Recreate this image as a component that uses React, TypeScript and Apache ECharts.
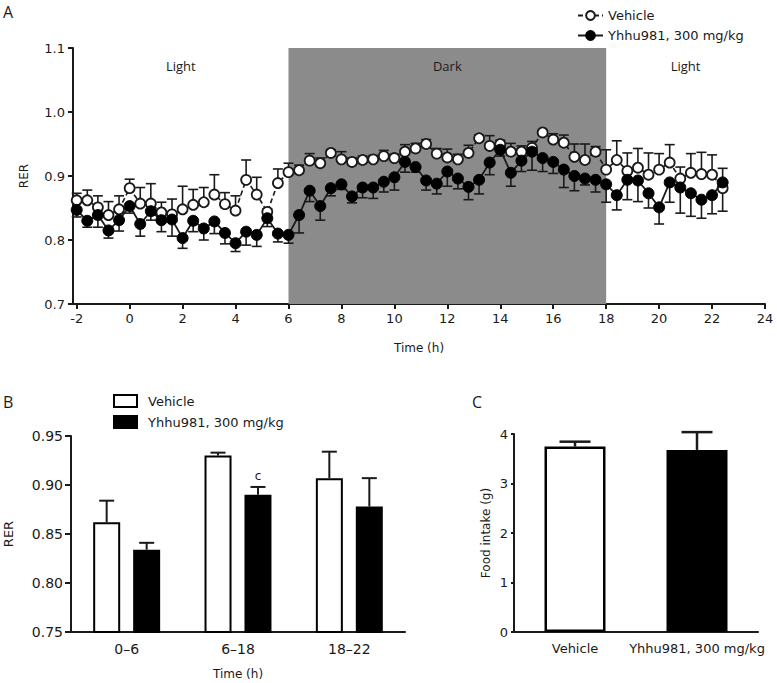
import React, { useEffect, useRef } from "react";
import * as echarts from "echarts";

// ---------- Panel A data ----------
const timeH = [
  -2, -1.6, -1.2, -0.8, -0.4, 0, 0.4, 0.8, 1.2, 1.6,
  2, 2.4, 2.8, 3.2, 3.6, 4, 4.4, 4.8, 5.2, 5.6,
  6, 6.4, 6.8, 7.2, 7.6, 8, 8.4, 8.8, 9.2, 9.6,
  10, 10.4, 10.8, 11.2, 11.6, 12, 12.4, 12.8, 13.2, 13.6,
  14, 14.4, 14.8, 15.2, 15.6, 16, 16.4, 16.8, 17.2, 17.6,
  18, 18.4, 18.8, 19.2, 19.6, 20, 20.4, 20.8, 21.2, 21.6,
  22, 22.4,
];
const vehicleRER = [
  0.862, 0.862, 0.851, 0.839, 0.848, 0.881, 0.857, 0.857, 0.843, 0.840,
  0.848, 0.855, 0.859, 0.871, 0.856, 0.846, 0.894, 0.871, 0.844, 0.889,
  0.906, 0.909, 0.924, 0.920, 0.936, 0.926, 0.922, 0.925, 0.926, 0.931,
  0.928, 0.938, 0.943, 0.950, 0.935, 0.929, 0.926, 0.936, 0.959, 0.947,
  0.950, 0.938, 0.938, 0.944, 0.968, 0.957, 0.952, 0.930, 0.925, 0.938,
  0.910, 0.925, 0.908, 0.913, 0.902, 0.910, 0.921, 0.896, 0.905, 0.903,
  0.902, 0.881,
];
const vehicleErr = [
  0.011, 0.016, 0.018, 0.021, 0.021, 0.014, 0.025, 0.031, 0.016, 0.024,
  0.036, 0.024, 0.023, 0.031, 0.018, 0.023, 0.031, 0.027, 0.005, 0.022,
  0.014, 0.008, 0.011, 0.008, 0.005, 0.012, 0.006, 0.006, 0.006, 0.009,
  0.006, 0.011, 0.008, 0.007, 0.008, 0.013, 0.008, 0.012, 0.005, 0.016,
  0.006, 0.013, 0.009, 0.010, 0.003, 0.009, 0.012, 0.020, 0.025, 0.008,
  0.031, 0.030, 0.028, 0.030, 0.034, 0.025, 0.028, 0.018, 0.030, 0.034,
  0.031, 0.031,
];
const yhhuRER = [
  0.847, 0.830, 0.839, 0.815, 0.831, 0.853, 0.825, 0.845, 0.831, 0.832,
  0.803, 0.830, 0.818, 0.829, 0.811, 0.795, 0.813, 0.808, 0.834, 0.810,
  0.808, 0.839, 0.877, 0.853, 0.881, 0.887, 0.868, 0.882, 0.882, 0.891,
  0.898, 0.922, 0.914, 0.893, 0.888, 0.907, 0.896, 0.883, 0.894, 0.921,
  0.941, 0.905, 0.924, 0.938, 0.928, 0.922, 0.910, 0.900, 0.896, 0.894,
  0.887, 0.870, 0.894, 0.893, 0.873, 0.851, 0.890, 0.882, 0.873, 0.863,
  0.870, 0.890,
];
const yhhuErr = [
  0.011, 0.010, 0.019, 0.012, 0.017, 0.011, 0.019, 0.014, 0.018, 0.026,
  0.016, 0.017, 0.018, 0.019, 0.017, 0.013, 0.021, 0.018, 0.013, 0.013,
  0.013, 0.028, 0.017, 0.022, 0.012, 0.008, 0.010, 0.016, 0.017, 0.016,
  0.020, 0.016, 0.008, 0.015, 0.016, 0.023, 0.016, 0.020, 0.022, 0.019,
  0.010, 0.021, 0.017, 0.029, 0.021, 0.018, 0.028, 0.023, 0.010, 0.019,
  0.028, 0.023, 0.031, 0.033, 0.023, 0.026, 0.031, 0.040, 0.036, 0.029,
  0.029, 0.045,
];
const xTicksA = [-2, 0, 2, 4, 6, 8, 10, 12, 14, 16, 18, 20, 22, 24];

// ---------- Panel B data ----------
const periodCats = ["0–6", "6–18", "18–22"];
const vehicleMeanB = [0.862, 0.930, 0.907];
const vehicleErrB = [0.022, 0.003, 0.027];
const yhhuMeanB = [0.834, 0.890, 0.878];
const yhhuErrB = [0.007, 0.008, 0.029];
const yhhuSigB = ["", "c", ""];

// ---------- Panel C data ----------
const groupCats = ["Vehicle", "Yhhu981, 300 mg/kg"];
const foodMean = [3.745, 3.678];
const foodErr = [0.10, 0.36];

const INK = "#1a1a1a";
const FONT = "DejaVu Sans";

const legendNames: Record<string, string> = {
  "B-Vehicle": "Vehicle",
  "B-Yhhu": "Yhhu981, 300 mg/kg",
};

function lineErr(dir: number) {
  return (params: any, api: any) => {
    const x = api.value(0);
    const y = api.value(1);
    const e = api.value(2);
    const p0 = api.coord([x, y]);
    const p1 = api.coord([x, y + dir * e]);
    const hw = 5;
    const st = { stroke: INK, lineWidth: 1.6 };
    return {
      type: "group",
      children: [
        { type: "line", shape: { x1: p0[0], y1: p0[1], x2: p1[0], y2: p1[1] }, style: st },
        { type: "line", shape: { x1: p1[0] - hw, y1: p1[1], x2: p1[0] + hw, y2: p1[1] }, style: st },
      ],
    };
  };
}

function barErr(offset: number, hw: number, lw: number, labels?: string[]) {
  return (params: any, api: any) => {
    const c = api.value(0);
    const v = api.value(1);
    const e = api.value(2);
    const p0 = api.coord([c, v]);
    const p1 = api.coord([c, v + e]);
    const x = p0[0] + offset;
    const st = { stroke: INK, lineWidth: lw };
    const children: any[] = [
      { type: "line", shape: { x1: x, y1: p0[1], x2: x, y2: p1[1] }, style: st },
      { type: "line", shape: { x1: x - hw, y1: p1[1], x2: x + hw, y2: p1[1] }, style: st },
    ];
    const lab = labels ? labels[params.dataIndex] : "";
    if (lab) {
      children.push({
        type: "text",
        x: x,
        y: p1[1] - 5,
        style: { text: lab, fill: INK, font: `12px ${FONT}`, textAlign: "center", textVerticalAlign: "bottom" },
      });
    }
    return { type: "group", children };
  };
}

export default function App() {
  const ref = useRef<HTMLDivElement>(null);

  useEffect(() => {
    document.body.style.margin = "0";
    if (!ref.current) return;
    const chart = echarts.init(ref.current, undefined, { renderer: "svg" });

    const axisLine = { show: true, onZero: false, lineStyle: { color: INK, width: 2 } };
    const lbl = (size: number, margin: number) => ({
      color: INK,
      fontSize: size,
      fontFamily: FONT,
      margin,
    });

    const option: any = {
      animation: false,
      backgroundColor: "#ffffff",
      textStyle: { fontFamily: FONT },
      grid: [
        { left: 73, top: 48, width: 692, height: 256 },
        { left: 71, top: 436, width: 334, height: 196 },
        { left: 514, top: 434, width: 244, height: 198 },
      ],
      legend: [
        {
          data: ["Vehicle", "Yhhu981, 300 mg/kg"],
          orient: "vertical",
          left: 572,
          top: 4,
          itemWidth: 25,
          itemHeight: 11,
          itemGap: 7,
          selectedMode: false,
          textStyle: { color: INK, fontSize: 13, fontFamily: FONT },
        },
        {
          data: ["B-Vehicle", "B-Yhhu"],
          orient: "vertical",
          left: 108,
          top: 389,
          icon: "rect",
          itemWidth: 23,
          itemHeight: 12,
          itemGap: 7,
          selectedMode: false,
          formatter: (n: string) => legendNames[n] || n,
          textStyle: { color: INK, fontSize: 13, fontFamily: FONT, padding: [0, 0, 0, 6] },
        },
      ],
      graphic: [
        { type: "text", left: 3, top: 4, style: { text: "A", fill: INK, font: "16px 'Open Sans'" } },
        { type: "text", left: 3, top: 394, style: { text: "B", fill: INK, font: "16px 'Open Sans'" } },
        { type: "text", left: 472, top: 394, style: { text: "C", fill: INK, font: "16px 'Open Sans'" } },
      ],
      xAxis: [
        {
          type: "value",
          gridIndex: 0,
          min: -2.14,
          max: 24,
          axisLine,
          axisTick: { show: true, length: 5, customValues: xTicksA, lineStyle: { color: INK, width: 2 } },
          axisLabel: { ...lbl(13, 8), customValues: xTicksA },
          splitLine: { show: false },
          name: "Time (h)",
          nameLocation: "middle",
          nameGap: 38,
          nameTextStyle: { color: INK, fontSize: 12, fontFamily: FONT },
        },
        {
          type: "category",
          gridIndex: 1,
          data: periodCats,
          axisLine,
          axisTick: { show: false },
          axisLabel: { ...lbl(14, 10), interval: 0 },
          name: "Time (h)",
          nameLocation: "middle",
          nameGap: 36,
          nameTextStyle: { color: INK, fontSize: 12, fontFamily: FONT },
        },
        {
          type: "category",
          gridIndex: 2,
          data: groupCats,
          axisLine,
          axisTick: { show: false },
          axisLabel: { ...lbl(13, 10), interval: 0 },
        },
      ],
      yAxis: [
        {
          type: "value",
          gridIndex: 0,
          min: 0.7,
          max: 1.1,
          interval: 0.1,
          axisLine,
          axisTick: { show: true, length: 5, lineStyle: { color: INK, width: 2 } },
          axisLabel: { ...lbl(13, 8), formatter: (v: number) => v.toFixed(1) },
          splitLine: { show: false },
          name: "RER",
          nameLocation: "middle",
          nameGap: 43,
          nameTextStyle: { color: INK, fontSize: 12, fontFamily: FONT },
        },
        {
          type: "value",
          gridIndex: 1,
          min: 0.75,
          max: 0.95,
          interval: 0.05,
          axisLine,
          axisTick: { show: true, length: 6, lineStyle: { color: INK, width: 2 } },
          axisLabel: { ...lbl(14, 8), formatter: (v: number) => v.toFixed(2) },
          splitLine: { show: false },
          name: "RER",
          nameLocation: "middle",
          nameGap: 56,
          nameTextStyle: { color: INK, fontSize: 13, fontFamily: FONT },
        },
        {
          type: "value",
          gridIndex: 2,
          min: 0,
          max: 4,
          interval: 1,
          axisLine,
          axisTick: { show: true, length: 3, lineStyle: { color: INK, width: 2 } },
          axisLabel: { ...lbl(13, 6) },
          splitLine: { show: false },
          name: "Food intake (g)",
          nameLocation: "middle",
          nameGap: 22,
          nameTextStyle: { color: INK, fontSize: 12, fontFamily: FONT },
        },
      ],
      series: [
        {
          type: "line",
          name: "bg",
          xAxisIndex: 0,
          yAxisIndex: 0,
          data: [[6, 0.7]],
          showSymbol: false,
          symbol: "none",
          lineStyle: { width: 0, opacity: 0 },
          silent: true,
          z: 1,
          markArea: {
            silent: true,
            label: { position: "insideTop", distance: 11, color: INK, fontSize: 13, fontFamily: "Open Sans" },
            data: [
              [{ xAxis: -2.14, name: "Light", itemStyle: { color: "rgba(0,0,0,0)" } }, { xAxis: 6 }],
              [{ xAxis: 6, name: "Dark", itemStyle: { color: "#8b8b8b" } }, { xAxis: 18 }],
              [{ xAxis: 18, name: "Light", itemStyle: { color: "rgba(0,0,0,0)" } }, { xAxis: 24 }],
            ],
          },
        },
        {
          type: "custom",
          name: "errV",
          xAxisIndex: 0,
          yAxisIndex: 0,
          z: 3,
          renderItem: lineErr(1),
          encode: { x: 0, y: 1 },
          data: timeH.map((t, i) => [t, vehicleRER[i], vehicleErr[i]]),
        },
        {
          type: "custom",
          name: "errY",
          xAxisIndex: 0,
          yAxisIndex: 0,
          z: 3,
          renderItem: lineErr(-1),
          encode: { x: 0, y: 1 },
          data: timeH.map((t, i) => [t, yhhuRER[i], yhhuErr[i]]),
        },
        {
          type: "line",
          name: "Vehicle",
          xAxisIndex: 0,
          yAxisIndex: 0,
          z: 4,
          data: timeH.map((t, i) => [t, vehicleRER[i]]),
          symbol: "circle",
          symbolSize: 10,
          showAllSymbol: true,
          lineStyle: { color: INK, width: 1.6, type: [5, 3] },
          itemStyle: { color: "#ffffff", borderColor: INK, borderWidth: 1.8 },
        },
        {
          type: "line",
          name: "Yhhu981, 300 mg/kg",
          xAxisIndex: 0,
          yAxisIndex: 0,
          z: 5,
          data: timeH.map((t, i) => [t, yhhuRER[i]]),
          symbol: "circle",
          symbolSize: 11,
          showAllSymbol: true,
          lineStyle: { color: INK, width: 1.8 },
          itemStyle: { color: "#000000", borderColor: "#000000", borderWidth: 1 },
        },
        {
          type: "bar",
          name: "B-Vehicle",
          xAxisIndex: 1,
          yAxisIndex: 1,
          barWidth: 27,
          barGap: "48%",
          data: vehicleMeanB,
          itemStyle: { color: "#ffffff", borderColor: "#000000", borderWidth: 2 },
        },
        {
          type: "bar",
          name: "B-Yhhu",
          xAxisIndex: 1,
          yAxisIndex: 1,
          barWidth: 27,
          barGap: "48%",
          data: yhhuMeanB,
          itemStyle: { color: "#000000", borderColor: "#000000", borderWidth: 2 },
        },
        {
          type: "custom",
          name: "errBV",
          xAxisIndex: 1,
          yAxisIndex: 1,
          z: 3,
          renderItem: barErr(-20, 7.5, 2),
          encode: { x: 0, y: 1 },
          data: periodCats.map((c, i) => [i, vehicleMeanB[i], vehicleErrB[i]]),
        },
        {
          type: "custom",
          name: "errBY",
          xAxisIndex: 1,
          yAxisIndex: 1,
          z: 3,
          renderItem: barErr(20, 7.5, 2, yhhuSigB),
          encode: { x: 0, y: 1 },
          data: periodCats.map((c, i) => [i, yhhuMeanB[i], yhhuErrB[i]]),
        },
        {
          type: "bar",
          name: "C-Food",
          xAxisIndex: 2,
          yAxisIndex: 2,
          barWidth: 61,
          data: foodMean.map((v, i) => ({
            value: v,
            itemStyle: i === 0
              ? { color: "#ffffff", borderColor: "#000000", borderWidth: 2.5 }
              : { color: "#000000", borderColor: "#000000", borderWidth: 2.5 },
          })),
        },
        {
          type: "custom",
          name: "errC",
          xAxisIndex: 2,
          yAxisIndex: 2,
          z: 3,
          renderItem: barErr(0, 15.5, 2.5),
          encode: { x: 0, y: 1 },
          data: groupCats.map((c, i) => [i, foodMean[i], foodErr[i]]),
        },
      ],
    };

    chart.setOption(option);
    return () => chart.dispose();
  }, []);

  return <div ref={ref} style={{ width: 777, height: 683 }} />;
}
